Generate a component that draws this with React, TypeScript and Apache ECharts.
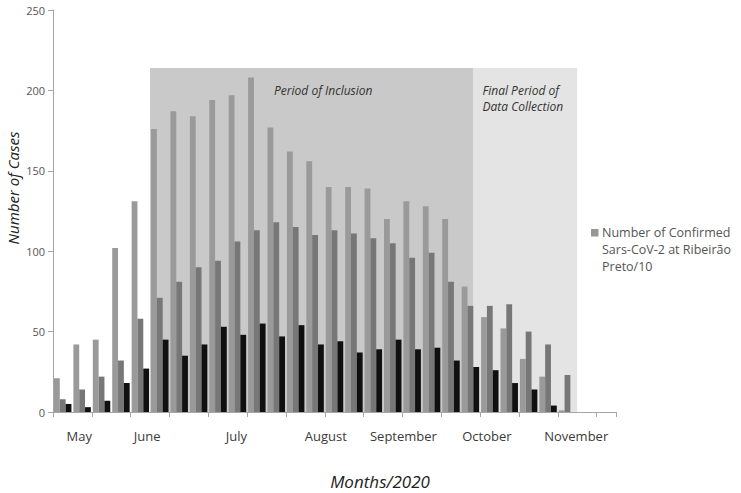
import React, { useEffect, useRef } from 'react';
import * as echarts from 'echarts';

// 29 weekly categories (May -> November 2020)
const weeks = [
  'W1', 'W2', 'W3', 'W4', 'W5', 'W6', 'W7', 'W8', 'W9', 'W10',
  'W11', 'W12', 'W13', 'W14', 'W15', 'W16', 'W17', 'W18', 'W19', 'W20',
  'W21', 'W22', 'W23', 'W24', 'W25', 'W26', 'W27', 'W28', 'W29',
];

const confirmedPer10 = [21, 42, 45, 102, 131, 176, 187, 184, 194, 197, 208, 177, 162, 156, 140, 140, 139, 120, 131, 128, 120, 78, 59, 52, 33, 22, 1, 0, 0];
const seriesB = [8, 14, 22, 32, 58, 71, 81, 90, 94, 106, 113, 118, 115, 110, 113, 111, 108, 105, 96, 99, 81, 66, 66, 67, 50, 42, 23, 0, 0];
const seriesC = [5, 3, 7, 18, 27, 45, 35, 42, 53, 48, 55, 47, 54, 42, 44, 37, 39, 45, 39, 40, 32, 28, 26, 18, 14, 4, 0, 0, 0];

// month labels and their positions along the week axis (in week units)
const monthLabels = ['May', 'June', 'July', 'August', 'September', 'October', 'November'];
const monthPositions = [1.39, 4.82, 9.41, 14.0, 18.0, 22.3, 26.9];

// shaded periods (in week units on the axis) and their top value
const inclusionPeriod = [5, 21.66];
const finalPeriod = [21.66, 27.0];
const periodTop = 214;

const yTicks = { min: 0, max: 250, interval: 50 };

const legendLines = ['Number of Confirmed', 'Sars-CoV-2 at Ribeirão', 'Preto/10'];

const FONT = '"Open Sans", sans-serif';

export default function App() {
  const ref = useRef<HTMLDivElement>(null);

  useEffect(() => {
    if (!ref.current) return;
    document.body.style.margin = '0';
    const chart = echarts.init(ref.current, null, { renderer: 'svg' });

    const fineSlots = weeks.length * 10;
    const fineData: string[] = new Array(fineSlots).fill('');
    monthLabels.forEach((m, i) => {
      const k = Math.round(monthPositions[i] * 10 - 0.5);
      fineData[k] = m;
    });

    const barBase = {
      type: 'bar' as const,
      xAxisIndex: 0,
      yAxisIndex: 0,
      barGap: '0%',
      barCategoryGap: '10%',
      z: 3,
    };

    const legendTexts = legendLines.map((t, i) => ({
      type: 'text',
      x: 602,
      y: 232 + i * 17,
      style: {
        text: t,
        fontFamily: FONT,
        fontSize: 12.5,
        lineHeight: 15,
        fill: '#555555',
        align: 'left',
        verticalAlign: 'middle',
      },
    }));

    chart.setOption({
      animation: false,
      textStyle: { fontFamily: FONT },
      grid: { left: 53, right: 125, top: 10, bottom: 81, containLabel: false },
      xAxis: [
        {
          type: 'category',
          data: weeks,
          position: 'bottom',
          axisLine: { show: true, lineStyle: { color: '#a6a6a6', width: 1 } },
          axisTick: { show: true, length: 5, lineStyle: { color: '#a6a6a6' } },
          axisLabel: { show: false },
          splitLine: { show: false },
        },
        {
          type: 'value',
          min: 0,
          max: weeks.length,
          show: false,
          splitLine: { show: false },
        },
        {
          type: 'category',
          data: fineData,
          position: 'bottom',
          axisLine: { show: false },
          axisTick: { show: false },
          splitLine: { show: false },
          axisLabel: {
            interval: 0,
            margin: 17,
            color: '#3a3a3a',
            fontSize: 13,
            fontFamily: FONT,
          },
        },
      ],
      yAxis: {
        type: 'value',
        min: yTicks.min,
        max: yTicks.max,
        interval: yTicks.interval,
        axisLine: { show: true, lineStyle: { color: '#a6a6a6', width: 1 } },
        axisTick: { show: true, length: 5, lineStyle: { color: '#a6a6a6' } },
        axisLabel: { color: '#555555', fontSize: 11, margin: 8, fontFamily: FONT },
        splitLine: { show: false },
      },
      series: [
        {
          type: 'line',
          name: 'periods',
          xAxisIndex: 1,
          yAxisIndex: 0,
          data: [],
          z: 0,
          silent: true,
          markArea: {
            silent: true,
            data: [
              [
                {
                  xAxis: inclusionPeriod[0],
                  yAxis: 0,
                  itemStyle: { color: '#c9c9c9' },
                  label: {
                    show: true,
                    formatter: 'Period of Inclusion',
                    position: 'insideTopLeft',
                    distance: 0,
                    offset: [124, 15],
                    fontStyle: 'italic',
                    fontSize: 12,
                    lineHeight: 16,
                    color: '#333333',
                    fontFamily: FONT,
                  },
                },
                { xAxis: inclusionPeriod[1], yAxis: periodTop },
              ],
              [
                {
                  xAxis: finalPeriod[0],
                  yAxis: 0,
                  itemStyle: { color: '#e4e4e4' },
                  label: {
                    show: true,
                    formatter: 'Final Period of\nData Collection',
                    position: 'insideTopLeft',
                    distance: 0,
                    offset: [9, 15],
                    fontStyle: 'italic',
                    fontSize: 12,
                    lineHeight: 16,
                    color: '#333333',
                    fontFamily: FONT,
                  },
                },
                { xAxis: finalPeriod[1], yAxis: periodTop },
              ],
            ],
          },
        },
        {
          ...barBase,
          name: 'Number of Confirmed Sars-CoV-2 at Ribeirão Preto/10',
          data: confirmedPer10,
          itemStyle: { color: '#9a9a9a' },
        },
        {
          ...barBase,
          name: 'Series 2',
          data: seriesB,
          itemStyle: { color: '#777777' },
        },
        {
          ...barBase,
          name: 'Series 3',
          data: seriesC,
          itemStyle: { color: '#101010' },
        },
      ],
      graphic: [
        {
          type: 'text',
          x: 13,
          y: 188,
          rotation: Math.PI / 2,
          style: {
            text: 'Number of Cases',
            fontFamily: FONT,
            fontStyle: 'italic',
            fontSize: 15,
            fill: '#222222',
            align: 'center',
            verticalAlign: 'middle',
          },
        },
        {
          type: 'text',
          x: 380,
          y: 481,
          style: {
            text: 'Months/2020',
            fontFamily: FONT,
            fontStyle: 'italic',
            fontSize: 17,
            fill: '#222222',
            align: 'center',
            verticalAlign: 'middle',
          },
        },
        {
          type: 'rect',
          shape: { x: 591, y: 229, width: 7.5, height: 7.5 },
          style: { fill: '#979797' },
        },
        ...legendTexts,
      ],
    });

    return () => chart.dispose();
  }, []);

  return <div ref={ref} style={{ width: 741, height: 493 }} />;
}
